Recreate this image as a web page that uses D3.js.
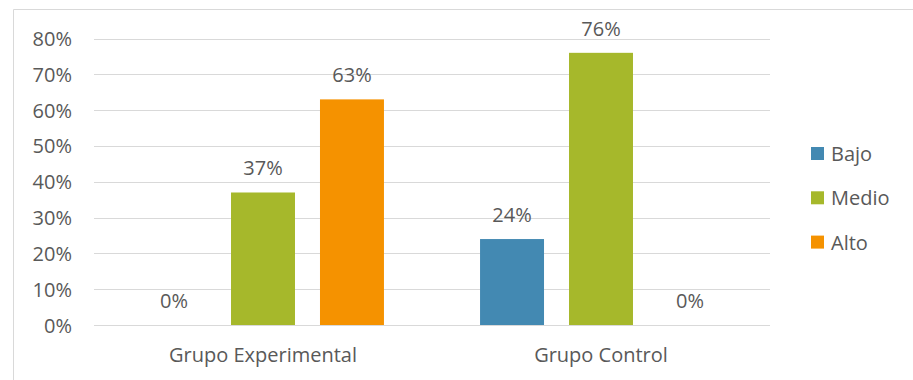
<!DOCTYPE html>
<html>
<head>
<meta charset="utf-8">
<script src="https://cdn.jsdelivr.net/npm/d3@7"></script>
<style>
  body { margin: 0; background: #fff; }
  svg text { font-family: "Open Sans", sans-serif; fill: #595959; }
</style>
</head>
<body>
<svg id="chart" width="913" height="380"></svg>
<script>
const GROUPS = ["Grupo Experimental", "Grupo Control"];
const SERIES = ["Bajo", "Medio", "Alto"];
const BAJO = [0, 24];
const MEDIO = [37, 76];
const ALTO = [63, 0];
const Y_TICKS = [0, 10, 20, 30, 40, 50, 60, 70, 80];
const COLORS = ["#4389b2", "#a6b82b", "#f59200"];

const FONT = 20;

const values = [BAJO, MEDIO, ALTO];
const rows = [];
GROUPS.forEach((g, gi) => {
  SERIES.forEach((s, si) => rows.push({ group: g, series: s, value: values[si][gi] }));
});

const svg = d3.select("#chart");

// chart area outline (only top and left edges show in the crop)
svg.append("path")
  .attr("d", "M13.5,380 V9.5 H913")
  .attr("fill", "none")
  .attr("stroke", "#d9d9d9")
  .attr("stroke-width", 1);

const x0 = d3.scaleBand().domain(GROUPS).range([94, 770]);
const x1 = d3.scaleBand().domain(SERIES).range([0, x0.bandwidth()])
  .paddingInner(0.281).paddingOuter(0.54);
const y = d3.scaleLinear().domain([0, 80]).range([325, 38.5]);
const color = d3.scaleOrdinal().domain(SERIES).range(COLORS);

// gridlines
svg.append("g")
  .selectAll("line")
  .data(Y_TICKS)
  .enter()
  .append("line")
  .attr("x1", 94)
  .attr("x2", 770)
  .attr("y1", (d) => Math.round(y(d)) + 0.5)
  .attr("y2", (d) => Math.round(y(d)) + 0.5)
  .attr("stroke", "#d9d9d9")
  .attr("stroke-width", 1.2);

// y axis labels
const yAxis = svg.append("g")
  .attr("transform", "translate(72,0)")
  .call(d3.axisLeft(y).tickValues(Y_TICKS).tickFormat((d) => d + "%").tickSize(0).tickPadding(0));
yAxis.select(".domain").remove();
yAxis.selectAll("text")
  .attr("font-size", FONT)
  .attr("dy", "0.35em")
  .style("fill", "#595959")
  .style("font-family", "\"Open Sans\", sans-serif");

// bars
svg.append("g")
  .selectAll("rect")
  .data(rows)
  .enter()
  .append("rect")
  .attr("x", (d) => x0(d.group) + x1(d.series))
  .attr("width", x1.bandwidth())
  .attr("y", (d) => y(d.value))
  .attr("height", (d) => y(0) - y(d.value))
  .attr("fill", (d) => color(d.series));

// data labels
svg.append("g")
  .selectAll("text")
  .data(rows)
  .enter()
  .append("text")
  .attr("x", (d) => x0(d.group) + x1(d.series) + x1.bandwidth() / 2)
  .attr("y", (d) => y(d.value) - 17)
  .attr("text-anchor", "middle")
  .attr("font-size", FONT)
  .attr("fill", "#404040")
  .text((d) => d.value + "%");

// x axis labels
const xAxis = svg.append("g")
  .attr("transform", "translate(0,325)")
  .call(d3.axisBottom(x0).tickSize(0).tickPadding(0));
xAxis.select(".domain").remove();
xAxis.selectAll("text")
  .attr("y", 37)
  .attr("dy", 0)
  .attr("font-size", FONT)
  .style("fill", "#595959")
  .style("font-family", "\"Open Sans\", sans-serif");

// legend
const legend = svg.append("g")
  .selectAll("g")
  .data(SERIES)
  .enter()
  .append("g")
  .attr("transform", (d, i) => "translate(811," + (147 + i * 44.3) + ")");
legend.append("rect")
  .attr("width", 13)
  .attr("height", 13)
  .attr("fill", (d) => color(d));
legend.append("text")
  .attr("x", 20)
  .attr("y", 14)
  .attr("font-size", FONT)
  .text((d) => d);
</script>
</body>
</html>
